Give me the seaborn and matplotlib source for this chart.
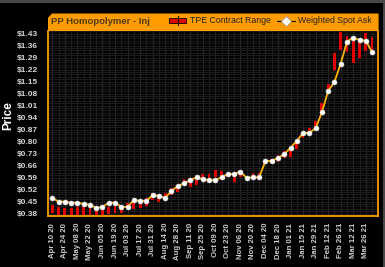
import numpy as np
import pandas as pd
import matplotlib
matplotlib.use("Agg")
import matplotlib.pyplot as plt
import seaborn as sns
from matplotlib.patches import Rectangle, Polygon
from matplotlib.lines import Line2D

# ---------------- data ----------------
spot = [0.473, 0.452, 0.452, 0.446, 0.446, 0.438, 0.434, 0.415, 0.421, 0.446,
        0.446, 0.421, 0.421, 0.462, 0.456, 0.456, 0.490, 0.485, 0.473, 0.514,
        0.542, 0.559, 0.577, 0.594, 0.582, 0.577, 0.577, 0.594, 0.613, 0.613,
        0.627, 0.590, 0.594, 0.594, 0.689, 0.689, 0.708, 0.728, 0.767, 0.806,
        0.853, 0.853, 0.880, 0.973, 1.098, 1.150, 1.257, 1.385, 1.409, 1.395,
        1.391, 1.325]
tpe_low = [0.384, 0.374, 0.372, 0.372, 0.374, 0.374, 0.374, 0.374, 0.376, 0.378,
           0.388, 0.388, 0.407, 0.407, 0.413, 0.427, 0.462, 0.452, 0.476, 0.490,
           0.510, 0.549, 0.539, 0.549, 0.578, 0.585, 0.594, 0.598, 0.594, 0.568,
           0.598, np.nan, 0.594, 0.594, np.nan, 0.680, 0.685, 0.708, 0.714, 0.760,
           0.825, 0.853, 0.880, 0.973, 1.094, 1.220, 1.337, 1.327, 1.259, 1.288,
           1.331, 1.327]
tpe_high = [0.433, 0.419, 0.413, 0.413, 0.419, 0.419, 0.413, 0.407, 0.413, 0.423,
            0.433, 0.413, 0.446, 0.452, 0.452, 0.472, 0.500, 0.497, 0.505, 0.530,
            0.543, 0.582, 0.578, 0.588, 0.613, 0.613, 0.637, 0.633, 0.621, 0.613,
            0.623, np.nan, 0.620, 0.620, np.nan, 0.700, 0.724, 0.748, 0.760, 0.792,
            0.864, 0.883, 0.923, 1.026, 1.137, 1.318, 1.444, 1.420, 1.390, 1.390,
            1.434, 1.414]
tick_labels = ["Apr 10 20", "Apr 24 20", "May 08 20", "May 22 20", "Jun 05 20",
               "Jun 19 20", "Jul 03 20", "Jul 17 20", "Jul 31 20", "Aug 14 20",
               "Aug 28 20", "Sep 11 20", "Sep 25 20", "Oct 09 20", "Oct 23 20",
               "Nov 06 20", "Nov 20 20", "Dec 04 20", "Dec 18 20", "Jan 01 21",
               "Jan 15 21", "Jan 29 21", "Feb 12 21", "Feb 26 21", "Mar 12 21",
               "Mar 26 21"]
y_ticks = [0.38, 0.45, 0.52, 0.59, 0.66, 0.73, 0.80, 0.87, 0.94, 1.01,
           1.08, 1.15, 1.22, 1.29, 1.36, 1.43]
title = "PP Homopolymer - Inj"
legend_range = "TPE Contract Range"
legend_spot = "Weighted Spot Ask"

# ---------------- style ----------------
sns.set_style("dark")
plt.rcParams["font.family"] = ["Liberation Sans", "DejaVu Sans"]

ORANGE = "#FF9C00"
df = pd.DataFrame({"week": np.arange(len(spot)), "spot": spot,
                   "low": tpe_low, "high": tpe_high})

W, H = 385, 267
fig = plt.figure(figsize=(W / 100, H / 100), dpi=100, facecolor="black")
ax = fig.add_axes([48 / W, 1 - 216 / H, 330 / W, 185 / H])
ax.set_facecolor("black")

# grid
ax.set_xlim(-0.69, 51.95)
ax.set_ylim(0.368, 1.4475)
for w in df["week"]:
    ax.axvline(w, color="#2a2a2a" if w % 2 == 0 else "#1f1f1f", lw=0.8, zorder=0)
for y in np.arange(0.368, 1.45, 0.014):
    ax.axhline(y, color="#1c1c1c", lw=0.8, zorder=0)

# TPE range bars
ax.bar(df["week"], df["high"] - df["low"], bottom=df["low"], width=0.45,
       color="#E00000", edgecolor="none", zorder=2)

# weighted spot ask line
sns.lineplot(data=df, x="week", y="spot", ax=ax, color="#FFB400", lw=1.3,
             marker="o", markersize=3.6, markerfacecolor="white",
             markeredgecolor="#dddddd", markeredgewidth=0.4, zorder=3)

ax.set_xticks(df["week"][::2])
ax.set_xticklabels(tick_labels, rotation=90, fontsize=5.6, color="#cfcfcf",
                   fontweight="bold")
ax.set_yticks(y_ticks)
ax.set_yticklabels([f"${v:.2f}" for v in y_ticks], fontsize=6, color="#d6d6d6",
                   fontweight="bold")
ax.tick_params(axis="both", length=0)
ax.tick_params(axis="y", pad=7)
ax.tick_params(axis="x", pad=5)
ax.set_xlabel("")
ax.set_ylabel("")
ax.grid(False)
for side in ["left", "bottom", "right"]:
    ax.spines[side].set_visible(True)
    ax.spines[side].set_color(ORANGE)
    ax.spines[side].set_linewidth(1.3)
ax.spines["top"].set_visible(False)

fig.text(8 / W, 1 - 116 / H, "Price", rotation=90, color="white",
         fontsize=8.5, fontweight="bold", ha="center", va="center")

# header band
def fx(px):
    return px / W

def fy(py):
    return 1 - py / H

hdr = Polygon([(fx(48), fy(31)), (fx(48), fy(18)), (fx(52), fy(13.5)),
               (fx(378.6), fy(13.5)), (fx(378.6), fy(31))],
              closed=True, transform=fig.transFigure, facecolor=ORANGE,
              edgecolor="none")
fig.patches.append(hdr)
fig.text(fx(51), fy(21.8), title, color="#4f3a18", fontsize=6.8,
         fontweight="bold", ha="left", va="center")

# legend items
fig.patches.append(Rectangle((fx(169), fy(23)), 17 / W, 5 / H,
                             transform=fig.transFigure, facecolor="#E00000",
                             edgecolor="black", lw=0.6))
fig.lines.append(Line2D([fx(178), fx(178)], [fy(25), fy(16)],
                        transform=fig.transFigure, color="black", lw=0.8))
fig.text(fx(190), fy(20.3), legend_range, color="#222222", fontsize=6.3,
         ha="left", va="center")
fig.lines.append(Line2D([fx(277), fx(295)], [fy(20.5), fy(20.5)],
                        transform=fig.transFigure, color="black", lw=0.8))
fig.lines.append(Line2D([fx(286)], [fy(20.5)], transform=fig.transFigure,
                        marker="D", markersize=5.5, markerfacecolor="white",
                        markeredgecolor="#999999", markeredgewidth=0.5,
                        linestyle="none"))
fig.text(fx(298), fy(20.3), legend_spot, color="#222222", fontsize=6.3,
         ha="left", va="center")

# frame strips
fig.patches.append(Rectangle((0, fy(3)), 1, 3 / H, transform=fig.transFigure,
                             facecolor="#484848", edgecolor="none"))
fig.patches.append(Rectangle((fx(383), 0), 2 / W, 1, transform=fig.transFigure,
                             facecolor="#484848", edgecolor="none"))

fig.savefig("out.png", dpi=100, facecolor="black")
